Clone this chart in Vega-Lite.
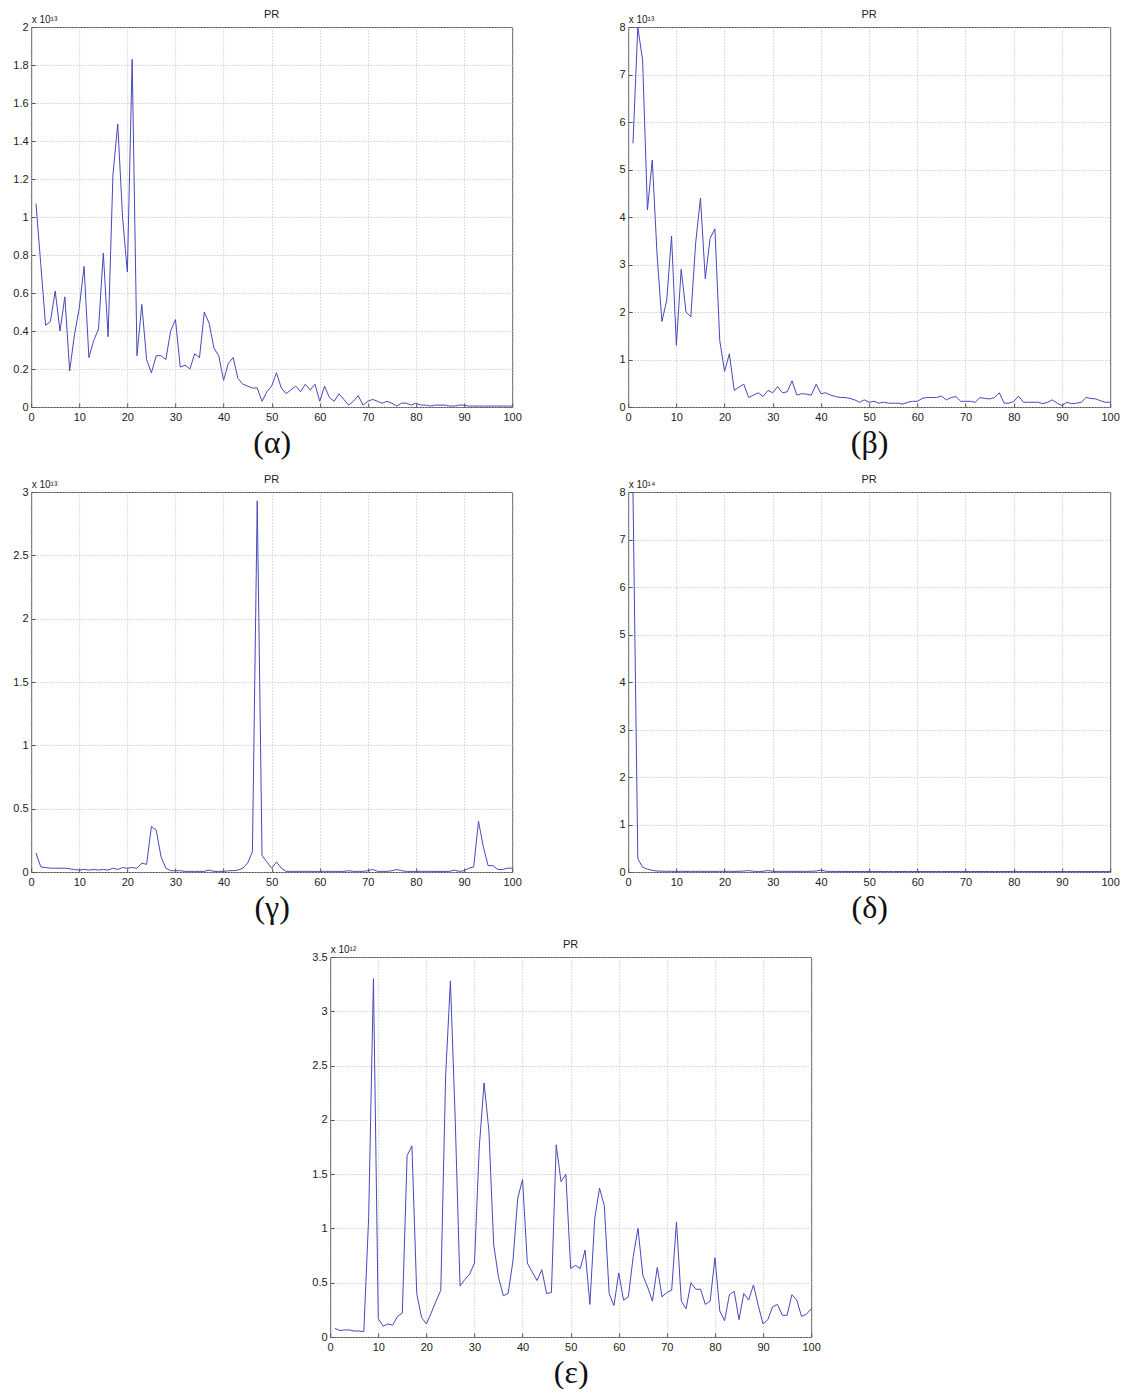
{
  "$schema": "https://vega.github.io/schema/vega-lite/v6.json",
  "background": "white",
  "padding": {"left": 12, "top": 8, "right": 0, "bottom": 0},
  "center": true,
  "spacing": 14,
  "config": {
    "view": {"stroke": "#555555", "strokeWidth": 1},
    "axis": {
      "labelFont": "Liberation Sans", "labelFontSize": 11, "labelColor": "#222222",
      "grid": true, "gridColor": "#b8b8b8", "gridDash": [1, 2], "gridWidth": 1,
      "domain": false, "ticks": true, "tickSize": -4, "tickColor": "#555555", "labelPadding": 8,
      "labelFlush": false, "labelOverlap": false
    },
    "axisX": {"titleFont": "Liberation Serif", "titleFontSize": 32, "titleFontWeight": "normal", "titleColor": "#111111", "titlePadding": 5},
    "axisY": {"titleFont": "Liberation Sans", "titleFontSize": 10, "titleFontWeight": "normal", "titleColor": "#222222", "titleAngle": 0, "titleAlign": "left", "titleBaseline": "bottom", "titleX": 0, "titleY": -3, "labelPadding": 7},
    "title": {"font": "Liberation Sans", "fontSize": 11, "fontWeight": "normal", "color": "#222222", "offset": -6, "anchor": "middle"},
    "line": {"color": "#4848bc", "strokeWidth": 1}
  },
  "datasets": {
    "alpha": [
      {"k":1,"pr":1.07e13},{"k":2,"pr":0.75e13},{"k":3,"pr":0.43e13},{"k":4,"pr":0.45e13},{"k":5,"pr":0.61e13},
      {"k":6,"pr":0.40e13},{"k":7,"pr":0.58e13},{"k":8,"pr":0.19e13},{"k":9,"pr":0.38e13},{"k":10,"pr":0.52e13},
      {"k":11,"pr":0.74e13},{"k":12,"pr":0.26e13},{"k":13,"pr":0.35e13},{"k":14,"pr":0.41e13},{"k":15,"pr":0.81e13},
      {"k":16,"pr":0.37e13},{"k":17,"pr":1.22e13},{"k":18,"pr":1.49e13},{"k":19,"pr":1.0e13},{"k":20,"pr":0.71e13},
      {"k":21,"pr":1.83e13},{"k":22,"pr":0.27e13},{"k":23,"pr":0.54e13},{"k":24,"pr":0.25e13},{"k":25,"pr":0.18e13},
      {"k":26,"pr":0.27e13},{"k":27,"pr":0.27e13},{"k":28,"pr":0.25e13},{"k":29,"pr":0.40e13},{"k":30,"pr":0.46e13},
      {"k":31,"pr":0.21e13},{"k":32,"pr":0.22e13},{"k":33,"pr":0.20e13},{"k":34,"pr":0.28e13},{"k":35,"pr":0.26e13},
      {"k":36,"pr":0.50e13},{"k":37,"pr":0.44e13},{"k":38,"pr":0.31e13},{"k":39,"pr":0.27e13},{"k":40,"pr":0.14e13},
      {"k":41,"pr":0.23e13},{"k":42,"pr":0.26e13},{"k":43,"pr":0.15e13},{"k":44,"pr":0.12e13},{"k":45,"pr":0.11e13},
      {"k":46,"pr":0.10e13},{"k":47,"pr":0.10e13},{"k":48,"pr":0.03e13},{"k":49,"pr":0.08e13},{"k":50,"pr":0.11e13},
      {"k":51,"pr":0.18e13},{"k":52,"pr":0.10e13},{"k":53,"pr":0.07e13},{"k":54,"pr":0.09e13},{"k":55,"pr":0.11e13},
      {"k":56,"pr":0.08e13},{"k":57,"pr":0.12e13},{"k":58,"pr":0.09e13},{"k":59,"pr":0.12e13},{"k":60,"pr":0.03e13},
      {"k":61,"pr":0.11e13},{"k":62,"pr":0.05e13},{"k":63,"pr":0.03e13},{"k":64,"pr":0.07e13},{"k":65,"pr":0.04e13},
      {"k":66,"pr":0.01e13},{"k":67,"pr":0.03e13},{"k":68,"pr":0.06e13},{"k":69,"pr":0.01e13},{"k":70,"pr":0.03e13},
      {"k":71,"pr":0.04e13},{"k":72,"pr":0.03e13},{"k":73,"pr":0.02e13},{"k":74,"pr":0.03e13},{"k":75,"pr":0.02e13},
      {"k":76,"pr":0.005e13},{"k":77,"pr":0.02e13},{"k":78,"pr":0.02e13},{"k":79,"pr":0.01e13},{"k":80,"pr":0.02e13},
      {"k":81,"pr":0.01e13},{"k":82,"pr":0.01e13},{"k":83,"pr":0.005e13},{"k":84,"pr":0.01e13},{"k":85,"pr":0.01e13},
      {"k":86,"pr":0.01e13},{"k":87,"pr":0.005e13},{"k":88,"pr":0.005e13},{"k":89,"pr":0.01e13},{"k":90,"pr":0.01e13},
      {"k":91,"pr":0.005e13},{"k":92,"pr":0.005e13},{"k":93,"pr":0.005e13},{"k":94,"pr":0.005e13},{"k":95,"pr":0.005e13},
      {"k":96,"pr":0.005e13},{"k":97,"pr":0.005e13},{"k":98,"pr":0.005e13},{"k":99,"pr":0.005e13},{"k":100,"pr":0.005e13}
    ],
    "beta": [
      {"k":1,"pr":5.55e13},{"k":2,"pr":8.0e13},{"k":3,"pr":7.3e13},{"k":4,"pr":4.15e13},{"k":5,"pr":5.2e13},
      {"k":6,"pr":3.2e13},{"k":7,"pr":1.8e13},{"k":8,"pr":2.25e13},{"k":9,"pr":3.6e13},{"k":10,"pr":1.3e13},
      {"k":11,"pr":2.9e13},{"k":12,"pr":2.0e13},{"k":13,"pr":1.9e13},{"k":14,"pr":3.45e13},{"k":15,"pr":4.4e13},
      {"k":16,"pr":2.7e13},{"k":17,"pr":3.55e13},{"k":18,"pr":3.75e13},{"k":19,"pr":1.4e13},{"k":20,"pr":0.75e13},
      {"k":21,"pr":1.12e13},{"k":22,"pr":0.35e13},{"k":23,"pr":0.42e13},{"k":24,"pr":0.48e13},{"k":25,"pr":0.2e13},
      {"k":26,"pr":0.25e13},{"k":27,"pr":0.3e13},{"k":28,"pr":0.22e13},{"k":29,"pr":0.35e13},{"k":30,"pr":0.3e13},
      {"k":31,"pr":0.43e13},{"k":32,"pr":0.3e13},{"k":33,"pr":0.32e13},{"k":34,"pr":0.55e13},{"k":35,"pr":0.25e13},
      {"k":36,"pr":0.28e13},{"k":37,"pr":0.27e13},{"k":38,"pr":0.25e13},{"k":39,"pr":0.48e13},{"k":40,"pr":0.28e13},
      {"k":41,"pr":0.3e13},{"k":42,"pr":0.25e13},{"k":43,"pr":0.22e13},{"k":44,"pr":0.2e13},{"k":45,"pr":0.2e13},
      {"k":46,"pr":0.18e13},{"k":47,"pr":0.15e13},{"k":48,"pr":0.1e13},{"k":49,"pr":0.15e13},{"k":50,"pr":0.1e13},
      {"k":51,"pr":0.12e13},{"k":52,"pr":0.08e13},{"k":53,"pr":0.1e13},{"k":54,"pr":0.08e13},{"k":55,"pr":0.08e13},
      {"k":56,"pr":0.08e13},{"k":57,"pr":0.06e13},{"k":58,"pr":0.1e13},{"k":59,"pr":0.12e13},{"k":60,"pr":0.12e13},
      {"k":61,"pr":0.18e13},{"k":62,"pr":0.2e13},{"k":63,"pr":0.2e13},{"k":64,"pr":0.2e13},{"k":65,"pr":0.23e13},
      {"k":66,"pr":0.15e13},{"k":67,"pr":0.2e13},{"k":68,"pr":0.22e13},{"k":69,"pr":0.12e13},{"k":70,"pr":0.12e13},
      {"k":71,"pr":0.12e13},{"k":72,"pr":0.1e13},{"k":73,"pr":0.2e13},{"k":74,"pr":0.18e13},{"k":75,"pr":0.17e13},
      {"k":76,"pr":0.2e13},{"k":77,"pr":0.3e13},{"k":78,"pr":0.08e13},{"k":79,"pr":0.08e13},{"k":80,"pr":0.12e13},
      {"k":81,"pr":0.23e13},{"k":82,"pr":0.1e13},{"k":83,"pr":0.1e13},{"k":84,"pr":0.1e13},{"k":85,"pr":0.1e13},
      {"k":86,"pr":0.07e13},{"k":87,"pr":0.1e13},{"k":88,"pr":0.15e13},{"k":89,"pr":0.08e13},{"k":90,"pr":0.03e13},
      {"k":91,"pr":0.1e13},{"k":92,"pr":0.07e13},{"k":93,"pr":0.08e13},{"k":94,"pr":0.1e13},{"k":95,"pr":0.2e13},
      {"k":96,"pr":0.18e13},{"k":97,"pr":0.17e13},{"k":98,"pr":0.13e13},{"k":99,"pr":0.1e13},{"k":100,"pr":0.1e13}
    ],
    "gamma": [
      {"k":1,"pr":0.15e13},{"k":2,"pr":0.04e13},{"k":3,"pr":0.035e13},{"k":4,"pr":0.03e13},{"k":5,"pr":0.03e13},
      {"k":6,"pr":0.03e13},{"k":7,"pr":0.03e13},{"k":8,"pr":0.025e13},{"k":9,"pr":0.02e13},{"k":10,"pr":0.015e13},
      {"k":11,"pr":0.02e13},{"k":12,"pr":0.015e13},{"k":13,"pr":0.02e13},{"k":14,"pr":0.015e13},{"k":15,"pr":0.02e13},
      {"k":16,"pr":0.015e13},{"k":17,"pr":0.03e13},{"k":18,"pr":0.02e13},{"k":19,"pr":0.035e13},{"k":20,"pr":0.03e13},
      {"k":21,"pr":0.035e13},{"k":22,"pr":0.03e13},{"k":23,"pr":0.07e13},{"k":24,"pr":0.06e13},{"k":25,"pr":0.36e13},
      {"k":26,"pr":0.33e13},{"k":27,"pr":0.12e13},{"k":28,"pr":0.03e13},{"k":29,"pr":0.01e13},{"k":30,"pr":0.01e13},
      {"k":31,"pr":0.01e13},{"k":32,"pr":0.005e13},{"k":33,"pr":0.005e13},{"k":34,"pr":0.005e13},{"k":35,"pr":0.005e13},
      {"k":36,"pr":0.005e13},{"k":37,"pr":0.015e13},{"k":38,"pr":0.005e13},{"k":39,"pr":0.005e13},{"k":40,"pr":0.005e13},
      {"k":41,"pr":0.01e13},{"k":42,"pr":0.01e13},{"k":43,"pr":0.015e13},{"k":44,"pr":0.03e13},{"k":45,"pr":0.07e13},
      {"k":46,"pr":0.16e13},{"k":47,"pr":2.93e13},{"k":48,"pr":0.13e13},{"k":49,"pr":0.08e13},{"k":50,"pr":0.03e13},
      {"k":51,"pr":0.08e13},{"k":52,"pr":0.03e13},{"k":53,"pr":0.005e13},{"k":54,"pr":0.005e13},{"k":55,"pr":0.005e13},
      {"k":56,"pr":0.005e13},{"k":57,"pr":0.005e13},{"k":58,"pr":0.005e13},{"k":59,"pr":0.005e13},{"k":60,"pr":0.005e13},
      {"k":61,"pr":0.005e13},{"k":62,"pr":0.005e13},{"k":63,"pr":0.005e13},{"k":64,"pr":0.005e13},{"k":65,"pr":0.005e13},
      {"k":66,"pr":0.01e13},{"k":67,"pr":0.005e13},{"k":68,"pr":0.005e13},{"k":69,"pr":0.005e13},{"k":70,"pr":0.01e13},
      {"k":71,"pr":0.02e13},{"k":72,"pr":0.005e13},{"k":73,"pr":0.005e13},{"k":74,"pr":0.005e13},{"k":75,"pr":0.01e13},
      {"k":76,"pr":0.02e13},{"k":77,"pr":0.01e13},{"k":78,"pr":0.005e13},{"k":79,"pr":0.005e13},{"k":80,"pr":0.005e13},
      {"k":81,"pr":0.005e13},{"k":82,"pr":0.005e13},{"k":83,"pr":0.005e13},{"k":84,"pr":0.005e13},{"k":85,"pr":0.005e13},
      {"k":86,"pr":0.005e13},{"k":87,"pr":0.005e13},{"k":88,"pr":0.015e13},{"k":89,"pr":0.005e13},{"k":90,"pr":0.01e13},
      {"k":91,"pr":0.03e13},{"k":92,"pr":0.04e13},{"k":93,"pr":0.40e13},{"k":94,"pr":0.2e13},{"k":95,"pr":0.05e13},
      {"k":96,"pr":0.05e13},{"k":97,"pr":0.02e13},{"k":98,"pr":0.02e13},{"k":99,"pr":0.03e13},{"k":100,"pr":0.03e13}
    ],
    "delta": [
      {"k":1,"pr":8.0e14},{"k":2,"pr":0.28e14},{"k":3,"pr":0.1e14},{"k":4,"pr":0.06e14},{"k":5,"pr":0.035e14},
      {"k":6,"pr":0.02e14},{"k":7,"pr":0.018e14},{"k":8,"pr":0.015e14},{"k":9,"pr":0.015e14},{"k":10,"pr":0.012e14},
      {"k":11,"pr":0.015e14},{"k":12,"pr":0.012e14},{"k":13,"pr":0.015e14},{"k":14,"pr":0.012e14},{"k":15,"pr":0.015e14},
      {"k":16,"pr":0.012e14},{"k":17,"pr":0.015e14},{"k":18,"pr":0.012e14},{"k":19,"pr":0.015e14},{"k":20,"pr":0.012e14},
      {"k":21,"pr":0.015e14},{"k":22,"pr":0.012e14},{"k":23,"pr":0.015e14},{"k":24,"pr":0.02e14},{"k":25,"pr":0.03e14},
      {"k":26,"pr":0.015e14},{"k":27,"pr":0.012e14},{"k":28,"pr":0.015e14},{"k":29,"pr":0.03e14},{"k":30,"pr":0.015e14},
      {"k":31,"pr":0.012e14},{"k":32,"pr":0.015e14},{"k":33,"pr":0.012e14},{"k":34,"pr":0.015e14},{"k":35,"pr":0.012e14},
      {"k":36,"pr":0.015e14},{"k":37,"pr":0.012e14},{"k":38,"pr":0.015e14},{"k":39,"pr":0.02e14},{"k":40,"pr":0.04e14},
      {"k":41,"pr":0.015e14},{"k":42,"pr":0.012e14},{"k":43,"pr":0.012e14},{"k":44,"pr":0.012e14},{"k":45,"pr":0.012e14},
      {"k":46,"pr":0.01e14},{"k":47,"pr":0.012e14},{"k":48,"pr":0.01e14},{"k":49,"pr":0.012e14},{"k":50,"pr":0.01e14},
      {"k":51,"pr":0.01e14},{"k":52,"pr":0.012e14},{"k":53,"pr":0.01e14},{"k":54,"pr":0.01e14},{"k":55,"pr":0.012e14},
      {"k":56,"pr":0.01e14},{"k":57,"pr":0.01e14},{"k":58,"pr":0.012e14},{"k":59,"pr":0.01e14},{"k":60,"pr":0.01e14},
      {"k":61,"pr":0.01e14},{"k":62,"pr":0.012e14},{"k":63,"pr":0.01e14},{"k":64,"pr":0.01e14},{"k":65,"pr":0.012e14},
      {"k":66,"pr":0.01e14},{"k":67,"pr":0.01e14},{"k":68,"pr":0.01e14},{"k":69,"pr":0.012e14},{"k":70,"pr":0.01e14},
      {"k":71,"pr":0.01e14},{"k":72,"pr":0.01e14},{"k":73,"pr":0.01e14},{"k":74,"pr":0.012e14},{"k":75,"pr":0.01e14},
      {"k":76,"pr":0.01e14},{"k":77,"pr":0.01e14},{"k":78,"pr":0.01e14},{"k":79,"pr":0.01e14},{"k":80,"pr":0.012e14},
      {"k":81,"pr":0.01e14},{"k":82,"pr":0.01e14},{"k":83,"pr":0.01e14},{"k":84,"pr":0.01e14},{"k":85,"pr":0.01e14},
      {"k":86,"pr":0.01e14},{"k":87,"pr":0.01e14},{"k":88,"pr":0.01e14},{"k":89,"pr":0.01e14},{"k":90,"pr":0.01e14},
      {"k":91,"pr":0.01e14},{"k":92,"pr":0.01e14},{"k":93,"pr":0.01e14},{"k":94,"pr":0.01e14},{"k":95,"pr":0.01e14},
      {"k":96,"pr":0.01e14},{"k":97,"pr":0.01e14},{"k":98,"pr":0.01e14},{"k":99,"pr":0.01e14},{"k":100,"pr":0.01e14}
    ],
    "epsilon": [
      {"k":1,"pr":0.08e12},{"k":2,"pr":0.06e12},{"k":3,"pr":0.065e12},{"k":4,"pr":0.065e12},{"k":5,"pr":0.055e12},
      {"k":6,"pr":0.055e12},{"k":7,"pr":0.05e12},{"k":8,"pr":1.1e12},{"k":9,"pr":3.3e12},{"k":10,"pr":0.17e12},
      {"k":11,"pr":0.1e12},{"k":12,"pr":0.12e12},{"k":13,"pr":0.11e12},{"k":14,"pr":0.19e12},{"k":15,"pr":0.22e12},
      {"k":16,"pr":1.67e12},{"k":17,"pr":1.76e12},{"k":18,"pr":0.4e12},{"k":19,"pr":0.18e12},{"k":20,"pr":0.12e12},
      {"k":21,"pr":0.22e12},{"k":22,"pr":0.33e12},{"k":23,"pr":0.43e12},{"k":24,"pr":2.4e12},{"k":25,"pr":3.28e12},
      {"k":26,"pr":2.0e12},{"k":27,"pr":0.47e12},{"k":28,"pr":0.53e12},{"k":29,"pr":0.58e12},{"k":30,"pr":0.68e12},
      {"k":31,"pr":1.75e12},{"k":32,"pr":2.34e12},{"k":33,"pr":1.9e12},{"k":34,"pr":0.85e12},{"k":35,"pr":0.55e12},
      {"k":36,"pr":0.38e12},{"k":37,"pr":0.4e12},{"k":38,"pr":0.7e12},{"k":39,"pr":1.28e12},{"k":40,"pr":1.45e12},
      {"k":41,"pr":0.68e12},{"k":42,"pr":0.6e12},{"k":43,"pr":0.52e12},{"k":44,"pr":0.62e12},{"k":45,"pr":0.4e12},
      {"k":46,"pr":0.41e12},{"k":47,"pr":1.77e12},{"k":48,"pr":1.43e12},{"k":49,"pr":1.5e12},{"k":50,"pr":0.63e12},
      {"k":51,"pr":0.66e12},{"k":52,"pr":0.63e12},{"k":53,"pr":0.8e12},{"k":54,"pr":0.3e12},{"k":55,"pr":1.09e12},
      {"k":56,"pr":1.37e12},{"k":57,"pr":1.21e12},{"k":58,"pr":0.4e12},{"k":59,"pr":0.29e12},{"k":60,"pr":0.59e12},
      {"k":61,"pr":0.34e12},{"k":62,"pr":0.37e12},{"k":63,"pr":0.74e12},{"k":64,"pr":1.0e12},{"k":65,"pr":0.57e12},
      {"k":66,"pr":0.46e12},{"k":67,"pr":0.33e12},{"k":68,"pr":0.64e12},{"k":69,"pr":0.37e12},{"k":70,"pr":0.41e12},
      {"k":71,"pr":0.43e12},{"k":72,"pr":1.06e12},{"k":73,"pr":0.33e12},{"k":74,"pr":0.26e12},{"k":75,"pr":0.5e12},
      {"k":76,"pr":0.44e12},{"k":77,"pr":0.44e12},{"k":78,"pr":0.3e12},{"k":79,"pr":0.33e12},{"k":80,"pr":0.73e12},
      {"k":81,"pr":0.24e12},{"k":82,"pr":0.15e12},{"k":83,"pr":0.39e12},{"k":84,"pr":0.42e12},{"k":85,"pr":0.16e12},
      {"k":86,"pr":0.4e12},{"k":87,"pr":0.34e12},{"k":88,"pr":0.48e12},{"k":89,"pr":0.29e12},{"k":90,"pr":0.12e12},
      {"k":91,"pr":0.16e12},{"k":92,"pr":0.28e12},{"k":93,"pr":0.3e12},{"k":94,"pr":0.2e12},{"k":95,"pr":0.2e12},
      {"k":96,"pr":0.39e12},{"k":97,"pr":0.34e12},{"k":98,"pr":0.19e12},{"k":99,"pr":0.21e12},{"k":100,"pr":0.26e12}
    ]
  },
  "vconcat": [
    {
      "hconcat": [
        {
          "data": {"name": "alpha"}, "title": "PR", "width": 481, "height": 380,
          "mark": {"type": "line"},
          "encoding": {
            "x": {"field": "k", "type": "quantitative", "scale": {"domain": [0, 100], "nice": false}, "axis": {"values": [0,10,20,30,40,50,60,70,80,90,100], "title": "(α)"}},
            "y": {"field": "pr", "type": "quantitative", "scale": {"domain": [0, 2e13], "nice": false}, "axis": {"values": [0,2e12,4e12,6e12,8e12,1e13,1.2e13,1.4e13,1.6e13,1.8e13,2e13], "labelExpr": "format(datum.value/1e13,'~g')", "title": "x 10¹³"}}
          }
        },
        {
          "data": {"name": "beta"}, "title": "PR", "width": 482, "height": 380,
          "mark": {"type": "line"},
          "encoding": {
            "x": {"field": "k", "type": "quantitative", "scale": {"domain": [0, 100], "nice": false}, "axis": {"values": [0,10,20,30,40,50,60,70,80,90,100], "title": "(β)"}},
            "y": {"field": "pr", "type": "quantitative", "scale": {"domain": [0, 8e13], "nice": false}, "axis": {"values": [0,1e13,2e13,3e13,4e13,5e13,6e13,7e13,8e13], "labelExpr": "format(datum.value/1e13,'~g')", "title": "x 10¹³"}}
          }
        }
      ],
      "spacing": 96
    },
    {
      "hconcat": [
        {
          "data": {"name": "gamma"}, "title": "PR", "width": 481, "height": 380,
          "mark": {"type": "line"},
          "encoding": {
            "x": {"field": "k", "type": "quantitative", "scale": {"domain": [0, 100], "nice": false}, "axis": {"values": [0,10,20,30,40,50,60,70,80,90,100], "title": "(γ)"}},
            "y": {"field": "pr", "type": "quantitative", "scale": {"domain": [0, 3e13], "nice": false}, "axis": {"values": [0,5e12,1e13,1.5e13,2e13,2.5e13,3e13], "labelExpr": "format(datum.value/1e13,'~g')", "title": "x 10¹³"}}
          }
        },
        {
          "data": {"name": "delta"}, "title": "PR", "width": 482, "height": 380,
          "mark": {"type": "line"},
          "encoding": {
            "x": {"field": "k", "type": "quantitative", "scale": {"domain": [0, 100], "nice": false}, "axis": {"values": [0,10,20,30,40,50,60,70,80,90,100], "title": "(δ)"}},
            "y": {"field": "pr", "type": "quantitative", "scale": {"domain": [0, 8e14], "nice": false}, "axis": {"values": [0,1e14,2e14,3e14,4e14,5e14,6e14,7e14,8e14], "labelExpr": "format(datum.value/1e14,'~g')", "title": "x 10¹⁴"}}
          }
        }
      ],
      "spacing": 96
    },
    {
      "data": {"name": "epsilon"}, "title": "PR", "width": 481, "height": 380,
      "mark": {"type": "line"},
      "encoding": {
        "x": {"field": "k", "type": "quantitative", "scale": {"domain": [0, 100], "nice": false}, "axis": {"values": [0,10,20,30,40,50,60,70,80,90,100], "title": "(ε)"}},
        "y": {"field": "pr", "type": "quantitative", "scale": {"domain": [0, 3.5e12], "nice": false}, "axis": {"values": [0,5e11,1e12,1.5e12,2e12,2.5e12,3e12,3.5e12], "labelExpr": "format(datum.value/1e12,'~g')", "title": "x 10¹²"}}
      }
    }
  ]
}
